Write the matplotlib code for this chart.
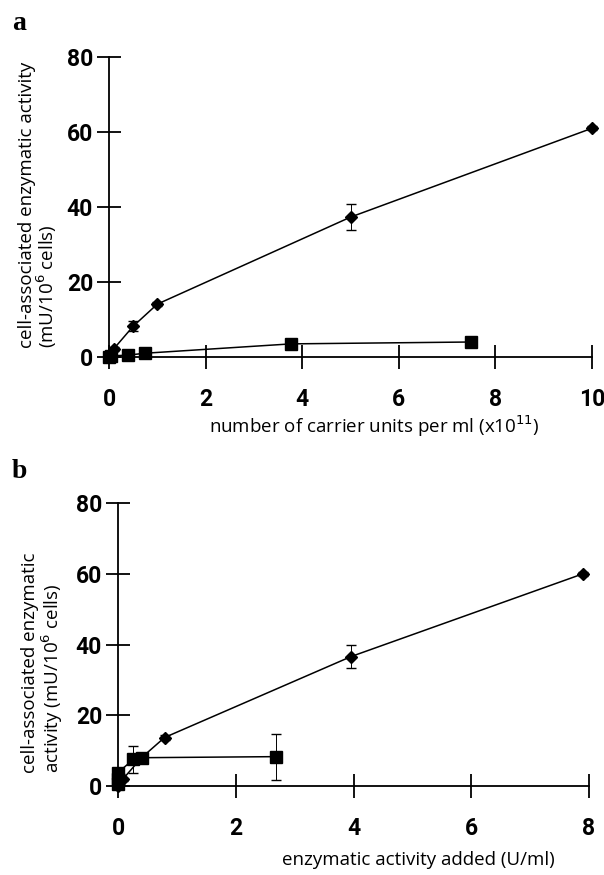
import matplotlib
matplotlib.use("Agg")
import matplotlib.pyplot as plt
from matplotlib.font_manager import FontProperties

# panel a: carrier units per ml (x10^11)
a_diamond_x = [0.0, 0.1, 0.5, 1.0, 5.0, 10.0]
a_diamond_y = [0.0, 2.2, 8.2, 14.1, 37.3, 61.0]
a_diamond_err = [0.0, 0.5, 1.3, 0.6, 3.4, 0.6]
a_square_x = [0.0, 0.05, 0.4, 0.74, 3.77, 7.5]
a_square_y = [0.0, 0.3, 0.5, 1.0, 3.5, 4.0]
a_square_err = [0.0, 0.2, 0.3, 0.3, 0.5, 0.5]

# panel b: enzymatic activity added (U/ml)
b_diamond_x = [0.0, 0.08, 0.4, 0.79, 3.96, 7.9]
b_diamond_y = [0.0, 1.9, 8.0, 13.7, 36.6, 60.0]
b_diamond_err = [0.0, 0.4, 0.8, 0.6, 3.3, 0.5]
b_square_x = [0.0, 0.0, 0.0, 0.26, 0.41, 2.69]
b_square_y = [0.5, 2.0, 3.8, 7.5, 8.0, 8.3]
b_square_err = [0.3, 0.5, 0.6, 3.8, 1.2, 6.5]

a_xticks = [0, 2, 4, 6, 8, 10]
b_xticks = [0, 2, 4, 6, 8]
yticks = [0, 20, 40, 60, 80]

tick_fp = FontProperties(family=["Roboto", "DejaVu Sans"], weight="bold", size=16.5)
label_font = dict(family=["Open Sans", "DejaVu Sans"], size=13.5)

fig = plt.figure(figsize=(6.04, 8.75), dpi=100)


def style_axes(ax, xmax, xticks):
    ax.set_xlim(0, xmax)
    ax.set_ylim(0, 80)
    for s in ["top", "right"]:
        ax.spines[s].set_visible(False)
    for s in ["left", "bottom"]:
        ax.spines[s].set_linewidth(1.3)
    ax.set_xticks(xticks)
    ax.set_yticks(yticks)
    ax.tick_params(direction="inout", length=17, width=1.3)
    ax.tick_params(axis="x", pad=14)
    ax.tick_params(axis="y", pad=3)
    for lab in ax.get_xticklabels() + ax.get_yticklabels():
        lab.set_fontproperties(tick_fp)


def draw(ax, dx, dy, de, sx, sy, se):
    ax.errorbar(dx, dy, yerr=de, color="black", lw=1.1, marker="D", ms=6,
                elinewidth=0.7, capsize=3.5, clip_on=False, zorder=3)
    ax.errorbar(sx, sy, yerr=se, color="black", lw=1.1, marker="s", ms=8,
                elinewidth=0.7, capsize=3.5, clip_on=False, zorder=3)


ax_a = fig.add_axes([109 / 604, 1 - 357 / 875, 483 / 604, 300 / 875])
draw(ax_a, a_diamond_x, a_diamond_y, a_diamond_err, a_square_x, a_square_y, a_square_err)
style_axes(ax_a, 10, a_xticks)
fig.text(374 / 604, 1 - 426 / 875, r"number of carrier units per ml (x10$^{11}$)",
         ha="center", va="center", **label_font)

ax_b = fig.add_axes([118 / 604, 1 - 786 / 875, 471 / 604, 283 / 875])
draw(ax_b, b_diamond_x, b_diamond_y, b_diamond_err, b_square_x, b_square_y, b_square_err)
style_axes(ax_b, 8, b_xticks)
fig.text(418 / 604, 1 - 860 / 875, "enzymatic activity added (U/ml)",
         ha="center", va="center", **label_font)

# y labels, bottom-aligned lines
fig.text(27 / 604, 1 - 348 / 875, "cell-associated enzymatic activity", rotation=90,
         ha="center", va="bottom", **label_font)
fig.text(47 / 604, 1 - 348 / 875, r"(mU/10$^6$ cells)", rotation=90,
         ha="center", va="bottom", **label_font)
fig.text(30 / 604, 1 - 773 / 875, "cell-associated enzymatic", rotation=90,
         ha="center", va="bottom", **label_font)
fig.text(52 / 604, 1 - 773 / 875, r"activity (mU/10$^6$ cells)", rotation=90,
         ha="center", va="bottom", **label_font)

fig.text(12 / 604, 1 - 30 / 875, "a", family=["Liberation Serif", "DejaVu Serif"],
         weight="bold", size=20)
fig.text(12 / 604, 1 - 478 / 875, "b", family=["Liberation Serif", "DejaVu Serif"],
         weight="bold", size=20)

fig.savefig("out.png", dpi=100)
